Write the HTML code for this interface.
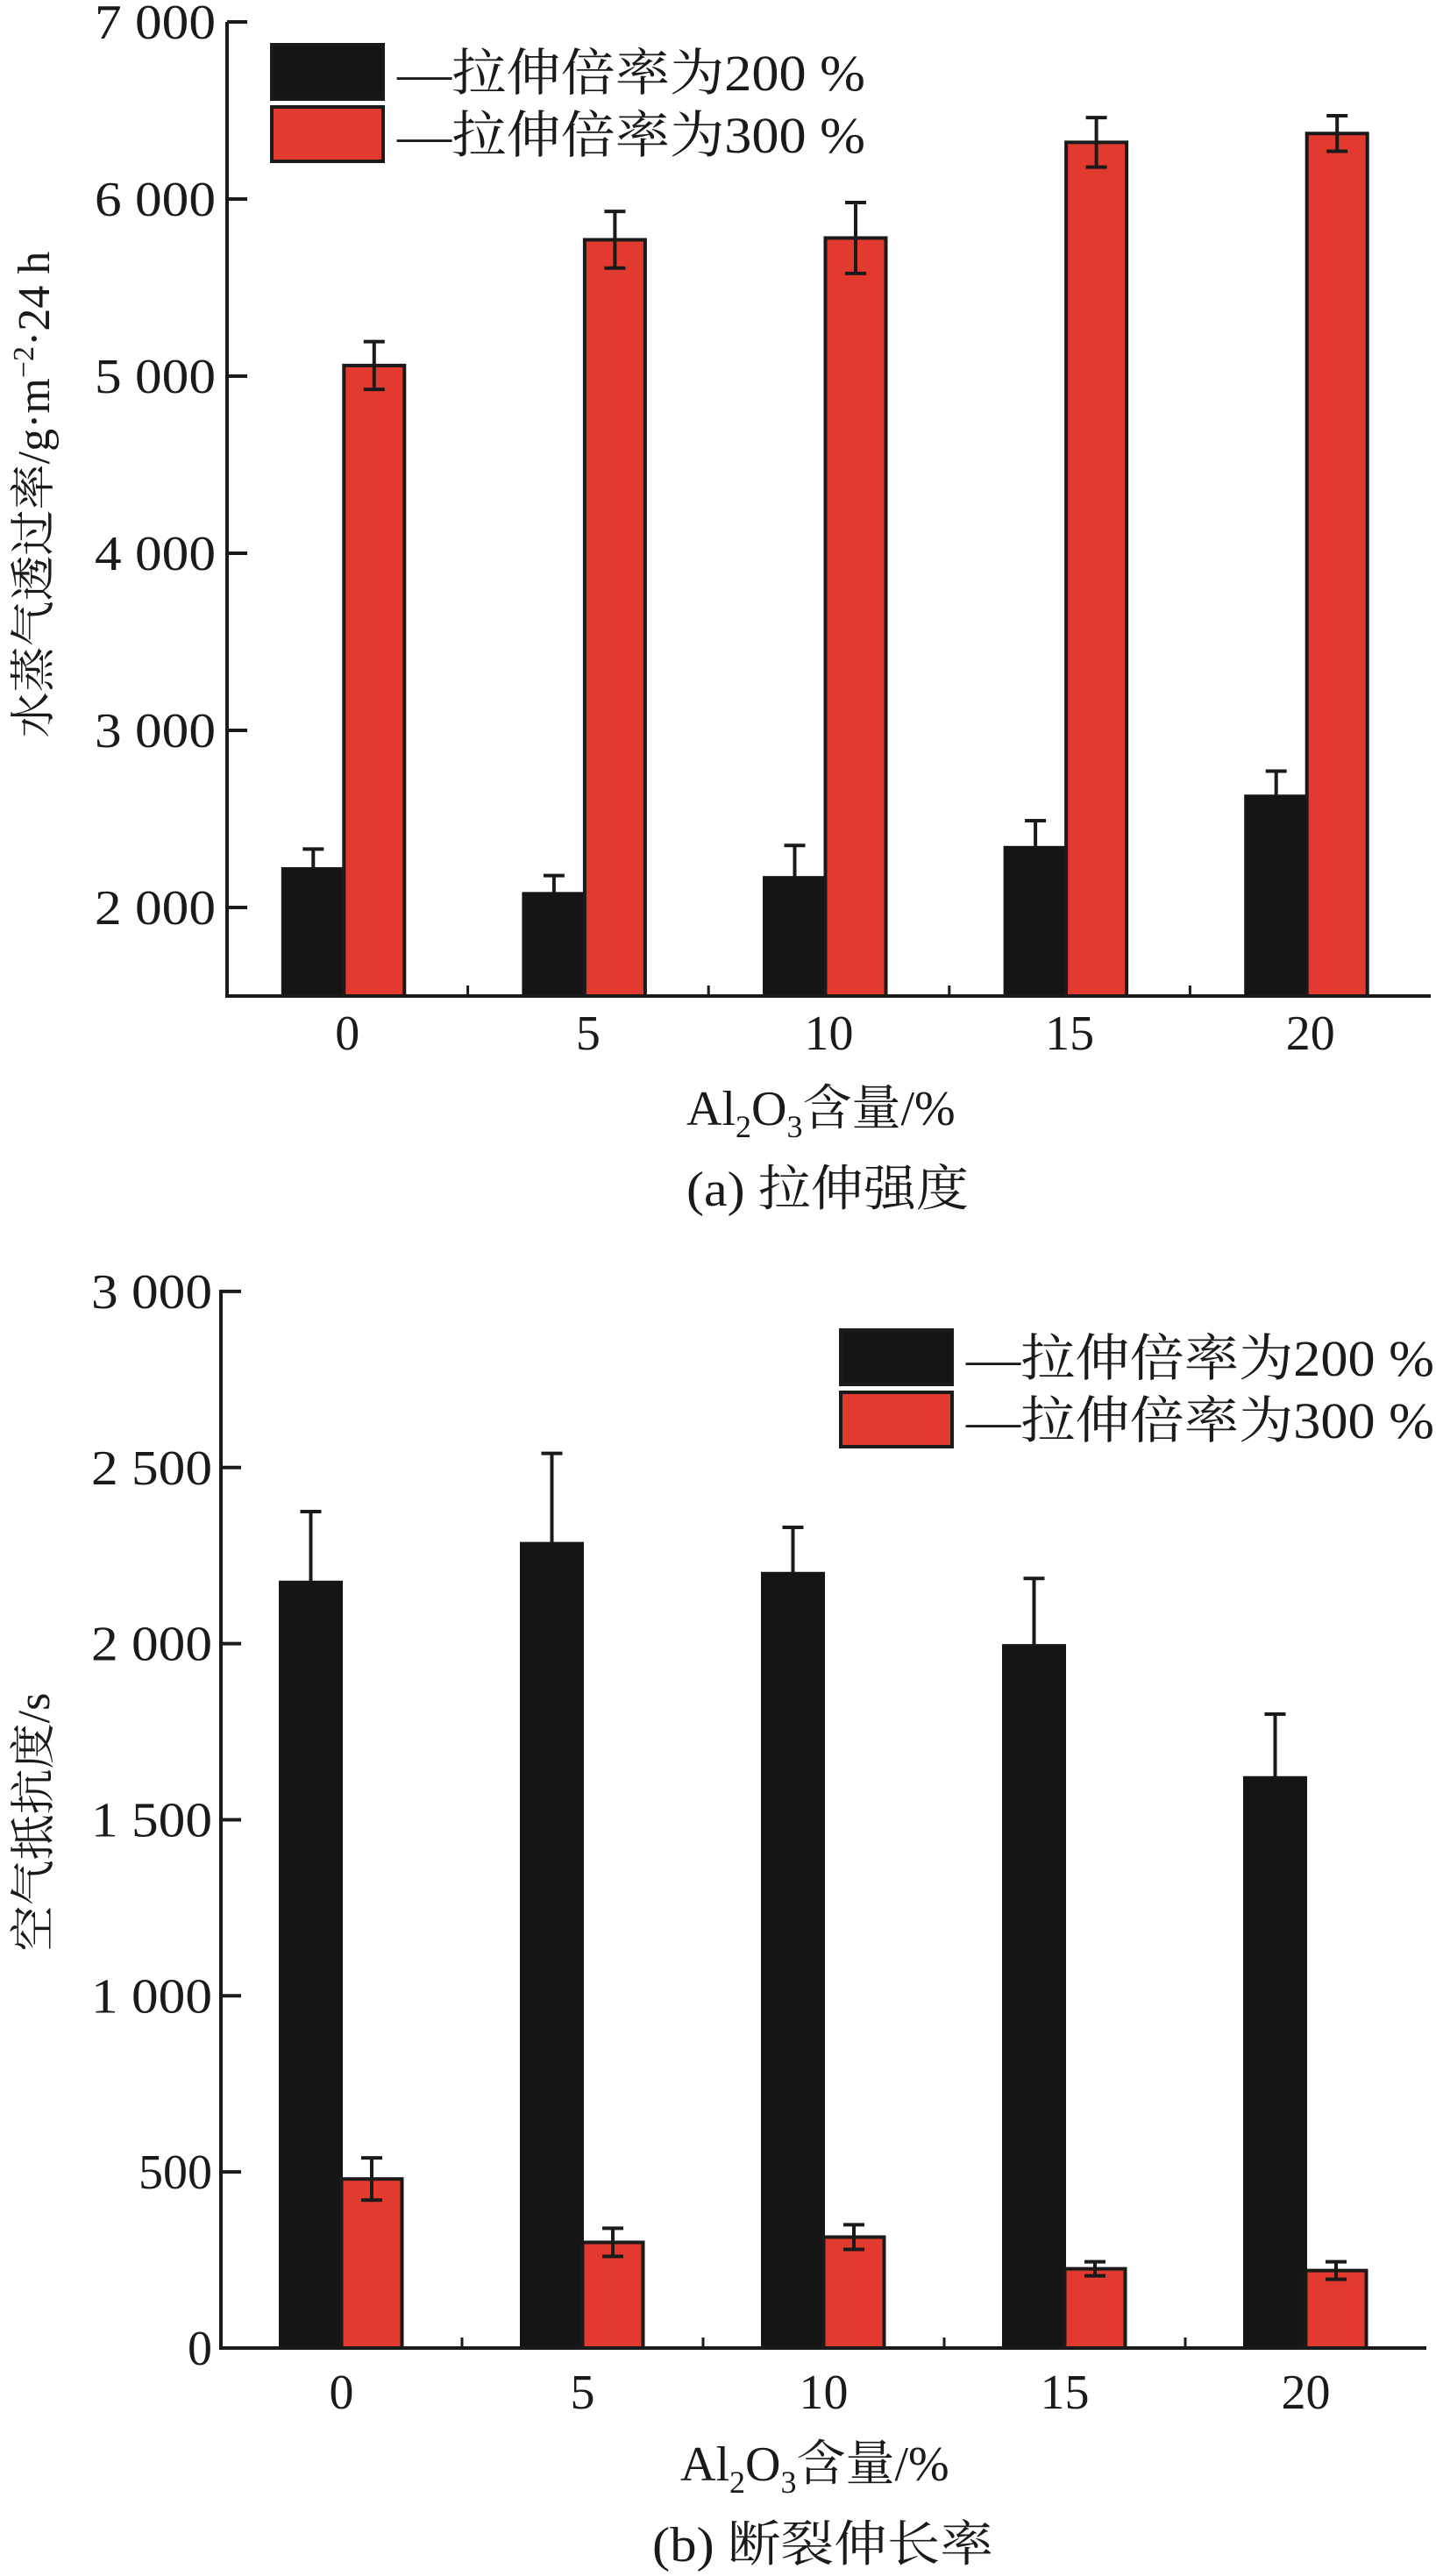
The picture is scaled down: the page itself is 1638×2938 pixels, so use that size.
<!DOCTYPE html>
<html><head><meta charset="utf-8"><style>
html,body{margin:0;padding:0;background:#fff;}
svg{display:block;}
text{font-family:"Liberation Serif","Noto Serif CJK SC","Noto Sans CJK SC",serif;fill:#1a1a1a;}
</style></head><body>
<svg id="fig" width="1638" height="2938" viewBox="0 0 1638 2938" xmlns="http://www.w3.org/2000/svg"></svg>
<script>
const categories = ["0","5","10","15","20"];
const aBlack = [2220, 2080, 2170, 2340, 2630];
const aBlackErr = [110, 100, 180, 150, 140];
const aRed = [5060, 5770, 5780, 6320, 6370];
const aRedErr = [135, 160, 200, 140, 100];
const aTicks = [2000, 3000, 4000, 5000, 6000, 7000];
const aTickLabels = ["2 000","3 000","4 000","5 000","6 000","7 000"];
const bBlack = [2175, 2285, 2200, 1995, 1620];
const bBlackErr = [200, 255, 130, 190, 180];
const bRed = [480, 300, 315, 225, 220];
const bRedErr = [60, 40, 35, 20, 25];
const bTicks = [0, 500, 1000, 1500, 2000, 2500, 3000];
const bTickLabels = ["0","500","1 000","1 500","2 000","2 500","3 000"];

const NS = "http://www.w3.org/2000/svg";
const svg = document.getElementById("fig");
function el(tag, attrs, parent) {
  const e = document.createElementNS(NS, tag);
  for (const k in attrs) e.setAttribute(k, attrs[k]);
  (parent || svg).appendChild(e);
  return e;
}
function txt(str, attrs, parent) {
  const t = el("text", attrs, parent);
  t.textContent = str;
  return t;
}

function drawChart(cfg) {
  const g = el("g", {});
  
  
  const y = v => cfg.y0 - (v - cfg.vmin) * cfg.pxPer;
  const band = (cfg.xR - cfg.xL) / categories.length;
  const cx = i => cfg.xL + band * (i + 0.5);
  // bars
  categories.forEach((c, i) => {
    const c0 = cx(i);
    const bx = c0 + cfg.off;
    const b = el("rect", {x: bx, y: y(cfg.black[i]), width: 70, height: cfg.y0 - y(cfg.black[i]), fill: "#151515", stroke: "#151515", "stroke-width": 3}, g);
    
    
    const r = el("rect", {x: bx + 70, y: y(cfg.red[i]), width: 69, height: cfg.y0 - y(cfg.red[i]), fill: "#e33a30", stroke: "#1a1a1a", "stroke-width": 4}, g);
    
    
    // error bars
    const ebx = bx + 35;
    const e1 = el("path", {d: `M${ebx},${y(cfg.black[i])} V${y(cfg.black[i] + cfg.blackErr[i])} M${ebx-12},${y(cfg.black[i] + cfg.blackErr[i])} H${ebx+12}`, stroke: "#1a1a1a", "stroke-width": 4, fill: "none"}, g);
    
    
    const erx = bx + 70 + 34.5;
    const hi = y(cfg.red[i] + cfg.redErr[i]), lo = y(cfg.red[i] - cfg.redErr[i]);
    const e2 = el("path", {d: `M${erx},${hi} V${lo} M${erx-12},${hi} H${erx+12} M${erx-12},${lo} H${erx+12}`, stroke: "#1a1a1a", "stroke-width": 4, fill: "none"}, g);
    
    
    const tl = txt(c, {x: c0, y: cfg.xLabY, "font-size": 56, "text-anchor": "middle"}, g);
    
    
  });
  // axes
  const ax = el("path", {d: `M${cfg.xL},${cfg.yTopAxis} V${cfg.y0} H${cfg.xR}`, stroke: "#1a1a1a", "stroke-width": 4, fill: "none"}, g);
  
  
  for (let i = 1; i < categories.length; i++) {
    const tx = cfg.xL + band * i;
    const t = el("line", {x1: tx, x2: tx, y1: cfg.y0, y2: cfg.y0 - 12, stroke: "#1a1a1a", "stroke-width": 3}, g);
    
    
  }
  cfg.ticks.forEach((v, i) => {
    const t = el("line", {x1: cfg.xL, x2: cfg.xL + 23, y1: y(v), y2: y(v), stroke: "#1a1a1a", "stroke-width": 4}, g);
    
    
    const lab = cfg.tickLabels[i];
    const a = {x: cfg.yLabR, y: y(v) + 19, "font-size": 56, "text-anchor": "end"};
    if (lab.length === 5) { a.textLength = 138; a.lengthAdjust = "spacingAndGlyphs"; }
    const tl = txt(lab, a, g);
    
    
  });
  // legend
  const lg = el("g", {}, g);
  
  
  const items = [["#151515", "—拉伸倍率为200 %"], ["#e33a30", "—拉伸倍率为300 %"]];
  items.forEach((it, k) => {
    const ly = cfg.legY[k];
    const sw = el("rect", {x: cfg.legX, y: ly, width: 127, height: 62, fill: it[0], stroke: "#1a1a1a", "stroke-width": 4}, lg);
    
    
    const lt = txt(it[1], {x: cfg.legX + 143, y: ly + 52, "font-size": 58, textLength: 534, lengthAdjust: "spacingAndGlyphs"}, lg);
    
    
  });
  // x title
  const xt = el("text", {x: cfg.xTitleX, y: cfg.xTitleY, "font-size": 56}, g);
  
  
  xt.innerHTML = 'Al<tspan font-size="36" dy="14">2</tspan><tspan dy="-14">O</tspan><tspan font-size="36" dy="14">3</tspan><tspan dy="-14">含量/%</tspan>';
  const cap = txt(cfg.caption, {x: cfg.capX, y: cfg.capY, "font-size": 56, textLength: cfg.capW, lengthAdjust: "spacingAndGlyphs"}, g);
  
  
  const yt = el("text", {x: 0, y: 0, "font-size": 52, "text-anchor": "middle", transform: `translate(56,${cfg.yTitleC}) rotate(-90)`}, g);
  
  
  yt.innerHTML = cfg.yTitle;
}

drawChart({name: "chart-a", black: aBlack, blackErr: aBlackErr, red: aRed, redErr: aRedErr,
  ticks: aTicks, tickLabels: aTickLabels, vmin: 1500, y0: 1136, pxPer: 0.202, yTopAxis: 25,
  xL: 259, xR: 1632, off: -74, xLabY: 1197, yLabR: 246,
  legX: 310, legY: [51, 122], xTitleX: 783, xTitleY: 1283, capX: 783, capY: 1375, capW: 322,
  caption: "(a) 拉伸强度", yTitleC: 564,
  yTitle: '水蒸气透过率/g·m<tspan font-size="34" dy="-18">−2</tspan><tspan dy="18">·24 h</tspan>'});

drawChart({name: "chart-b", black: bBlack, blackErr: bBlackErr, red: bRed, redErr: bRedErr,
  ticks: bTicks, tickLabels: bTickLabels, vmin: 0, y0: 2678, pxPer: 0.4017, yTopAxis: 1471,
  xL: 252, xR: 1627, off: -70, xLabY: 2747, yLabR: 242,
  legX: 959, legY: [1517, 1588], xTitleX: 776, xTitleY: 2829, capX: 744, capY: 2921, capW: 389,
  caption: "(b) 断裂伸长率", yTitleC: 2078,
  yTitle: '空气抵抗度/s'});
</script>
</body></html>
